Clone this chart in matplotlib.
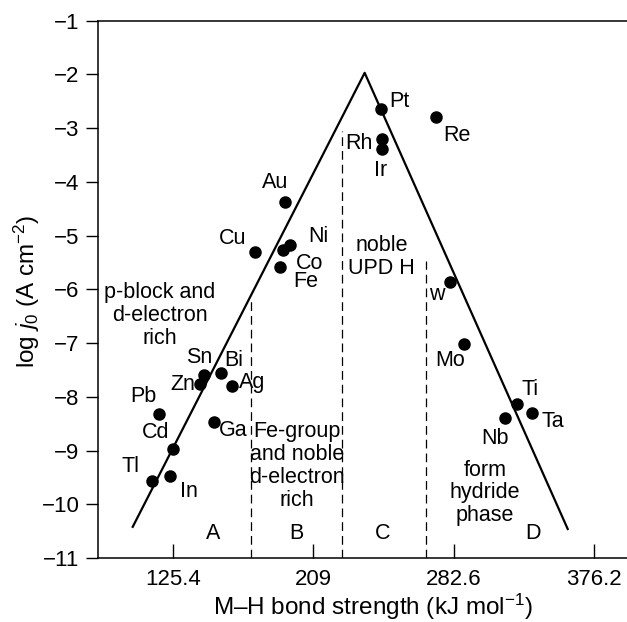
import matplotlib
matplotlib.use('Agg')
import matplotlib.pyplot as plt

plt.rcParams['font.family'] = ['Liberation Sans', 'DejaVu Sans']
plt.rcParams['mathtext.fontset'] = 'custom'
plt.rcParams['mathtext.rm'] = 'Liberation Sans'
plt.rcParams['mathtext.it'] = 'Liberation Sans:italic'
plt.rcParams['font.size'] = 15.5

# metals: M-H bond strength (kJ/mol), log j0, label offset (pixels)
metals = ['Pt', 'Rh', 'Ir', 'Re', 'Au', 'Cu', 'Ni', 'Co', 'Fe', 'w', 'Mo', 'Ti', 'Ta', 'Nb',
          'Sn', 'Zn', 'Bi', 'Ag', 'Pb', 'Ga', 'Cd', 'Tl', 'In']
bond = [249.1, 249.7, 249.7, 282.0, 192.1, 174.2, 195.1, 190.7, 189.1, 290.3, 298.9, 330.1, 339.2, 323.1,
        144.0, 141.7, 153.8, 160.4, 116.9, 149.8, 125.2, 112.9, 123.8]
logj0 = [-2.64, -3.21, -3.38, -2.80, -4.38, -5.31, -5.18, -5.27, -5.58, -5.86, -7.01, -8.14, -8.30, -8.40,
         -7.59, -7.76, -7.56, -7.79, -8.32, -8.46, -8.97, -9.56, -9.48]
offsets = [(19, 7), (-23, -4), (-1, -22), (21, -18), (-10, 20), (-22, 14), (28, 9), (27, -13), (26, -15),
           (-13, -13), (-14, -17), (13, 15), (21, -9), (-10, -20),
           (-5, 17), (-18, -1), (13, 13), (20, 3), (-15, 18), (19, -9), (-17, 16), (-22, 14), (19, -15)]

# volcano line
volcano_x = [101.4, 239.5, 360.4]
volcano_y = [-10.42, -1.97, -10.46]

# region boundaries (x, top y)
bounds_x = [171.7, 226.3, 275.8]
bounds_top = [-6.22, -3.05, -5.48]

regions = ['A', 'B', 'C', 'D']
regions_x = [149.2, 198.6, 250.4, 339.8]

notes = ['p-block and\nd-electron\nrich', 'Fe-group\nand noble\nd-electron\nrich',
         'noble\nUPD H', 'form\nhydride\nphase']
notes_x = [117.7, 199.0, 249.5, 311.1]
notes_y = [-6.49, -9.29, -5.39, -9.79]

xticks = [125.4, 209, 292.6, 376.2]
xticklabels = ['125.4', '209', '282.6', '376.2']

fig = plt.figure(figsize=(6.27, 6.22), dpi=100)
ax = fig.add_axes([0.1557, 0.1029, 0.8443, 0.8638])

ax.plot(volcano_x, volcano_y, color='black', lw=1.6)
for bx, bt in zip(bounds_x, bounds_top):
    ax.plot([bx, bx], [-11, bt], color='black', lw=0.9, dashes=(7, 4))
ax.plot(bond, logj0, 'o', color='black', ms=8)

for name, x, y, off in zip(metals, bond, logj0, offsets):
    ax.annotate(name, (x, y), xytext=off, textcoords='offset pixels', ha='center', va='center')

for r, x in zip(regions, regions_x):
    ax.text(x, -10.55, r, ha='center', va='center')
for t, x, y in zip(notes, notes_x, notes_y):
    ax.text(x, y, t, ha='center', va='center', linespacing=1.12)

ax.set_xlim(80.5, 395.7)
ax.set_ylim(-11, -1)
ax.set_xticks(xticks)
ax.set_xticklabels(xticklabels)
ax.set_yticks(range(-11, 0))
ax.tick_params(axis='both', labelsize=16)
ax.tick_params(axis='x', direction='in', length=10, width=1, pad=8)
ax.tick_params(axis='y', direction='out', length=9, width=1, pad=4)
ax.spines['right'].set_visible(False)
for s in ['left', 'bottom', 'top']:
    ax.spines[s].set_linewidth(1.1)

ax.set_xlabel('M–H bond strength (kJ mol$^{-1}$)', fontsize=17.5)
ax.xaxis.set_label_coords(0.52, -0.0912)
ax.set_ylabel('log $j_0$ (A cm$^{-2}$)', fontsize=17.5)
ax.yaxis.set_label_coords(-0.134, 0.497)
ax.xaxis.label.set_va('center')
ax.yaxis.label.set_va('center')

fig.savefig('out.png', dpi=100)
